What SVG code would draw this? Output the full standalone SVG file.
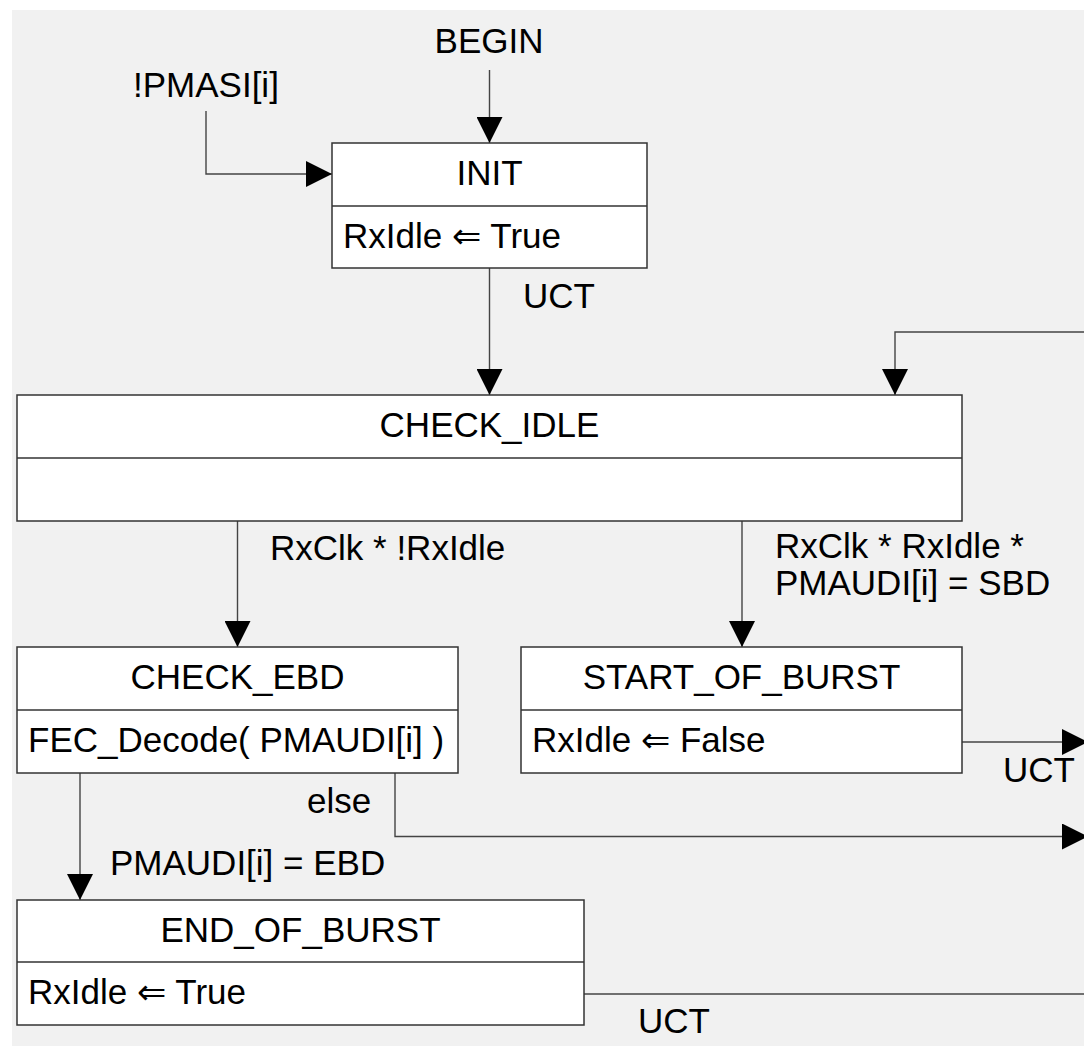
<svg xmlns="http://www.w3.org/2000/svg" width="1084" height="1046" viewBox="0 0 1084 1046">
<defs>
<style>
text{font-family:"Liberation Sans",Arial,"DejaVu Sans",sans-serif;font-size:35px;fill:#000}
.t{text-anchor:middle}
.box{fill:#fff;stroke:#333;stroke-width:1.5}
.div{stroke:#333;stroke-width:1.5}
.c{fill:none;stroke:#444;stroke-width:1.4}
</style>
<marker id="ah" markerUnits="userSpaceOnUse" markerWidth="26" markerHeight="26" refX="24" refY="12" orient="auto" viewBox="0 0 24 24">
<path d="M0,0 L24,12 L0,24 z" fill="#000"/>
</marker>
</defs>
<rect x="12" y="10" width="1072" height="1036" fill="#f1f1f1"/>

<g id="connectors">
<path class="c" d="M489.5,70 V143" marker-end="url(#ah)"/>
<path class="c" d="M206,111 V174 H332" marker-end="url(#ah)"/>
<path class="c" d="M489.5,268 V395" marker-end="url(#ah)"/>
<path class="c" d="M1090,332 H895 V395" marker-end="url(#ah)"/>
<path class="c" d="M237.5,521 V647" marker-end="url(#ah)"/>
<path class="c" d="M742,521 V647" marker-end="url(#ah)"/>
<path class="c" d="M962,742 H1088" marker-end="url(#ah)"/>
<path class="c" d="M395,773 V836.5 H1088" marker-end="url(#ah)"/>
<path class="c" d="M80,773 V900" marker-end="url(#ah)"/>
<path class="c" d="M584,994 H1090"/>
<text x="489" y="53" class="t">BEGIN</text>
<text x="133" y="97">!PMASI[i]</text>
<text x="523" y="308">UCT</text>
<text x="270" y="560">RxClk * !RxIdle</text>
<text x="775" y="558">RxClk * RxIdle *</text>
<text x="775" y="595">PMAUDI[i] = SBD</text>
<text x="1003" y="782">UCT</text>
<text x="307" y="813">else</text>
<text x="110" y="875">PMAUDI[i] = EBD</text>
<text x="638" y="1033">UCT</text>
</g>

<g id="INIT">
<rect class="box" x="332" y="143" width="315" height="125"/>
<line class="div" x1="332" y1="206" x2="647" y2="206"/>
<text x="489.5" y="185" class="t">INIT</text>
<text x="343" y="248">RxIdle ⇐ True</text>
</g>

<g id="CHECK_IDLE">
<rect class="box" x="17" y="395" width="945" height="126"/>
<line class="div" x1="17" y1="458" x2="962" y2="458"/>
<text x="489.5" y="437" class="t">CHECK_IDLE</text>
</g>

<g id="CHECK_EBD">
<rect class="box" x="17" y="647" width="441" height="126"/>
<line class="div" x1="17" y1="710" x2="458" y2="710"/>
<text x="237.5" y="689" class="t">CHECK_EBD</text>
<text x="28" y="752">FEC_Decode( PMAUDI[i] )</text>
</g>

<g id="START_OF_BURST">
<rect class="box" x="521" y="647" width="441" height="126"/>
<line class="div" x1="521" y1="710" x2="962" y2="710"/>
<text x="741.5" y="689" class="t">START_OF_BURST</text>
<text x="532" y="752">RxIdle ⇐ False</text>
</g>

<g id="END_OF_BURST">
<rect class="box" x="17" y="900" width="567" height="125"/>
<line class="div" x1="17" y1="962" x2="584" y2="962"/>
<text x="300.5" y="942" class="t">END_OF_BURST</text>
<text x="28" y="1004">RxIdle ⇐ True</text>
</g>
</svg>
